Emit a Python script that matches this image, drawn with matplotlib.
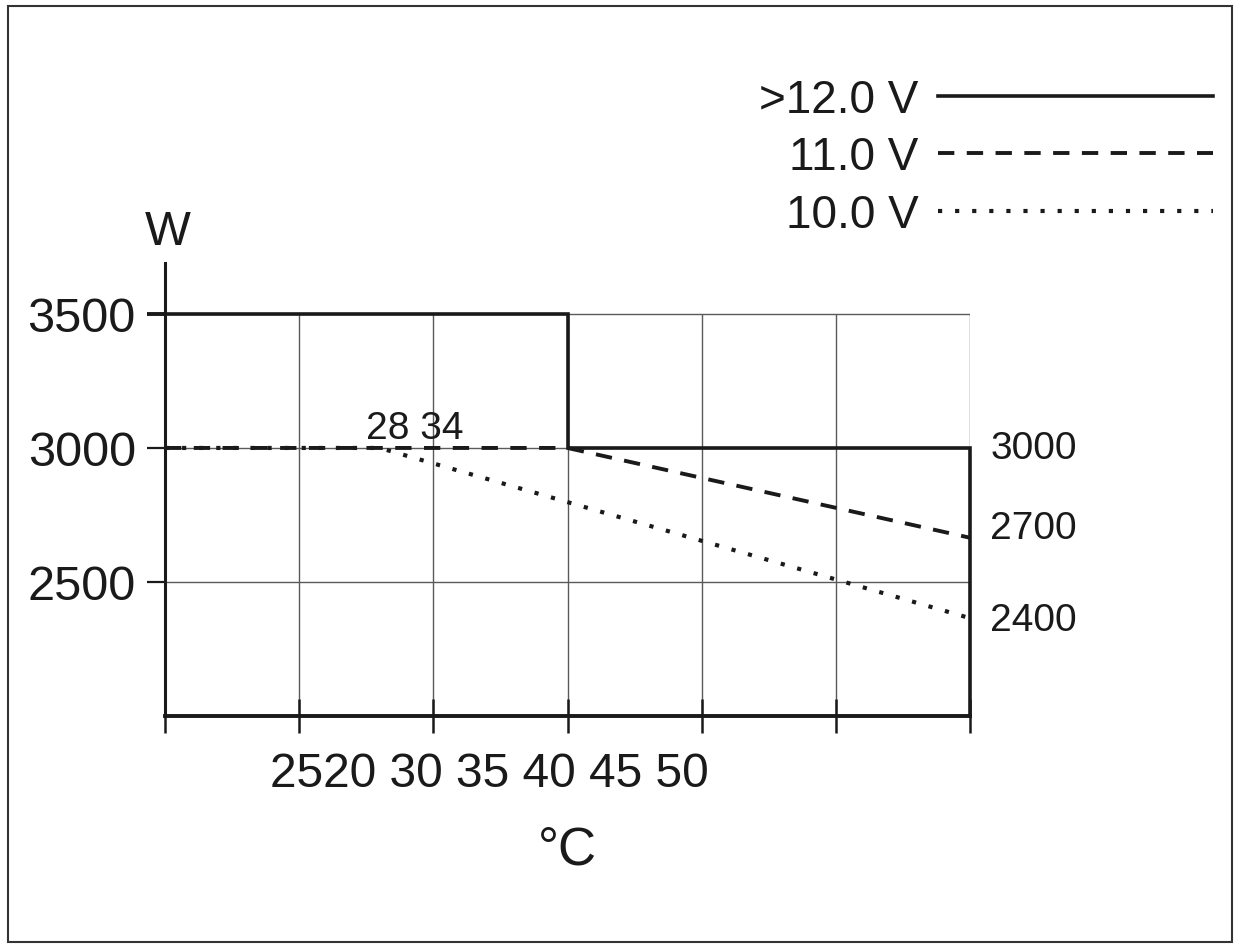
import matplotlib.pyplot as plt
from matplotlib.lines import Line2D
from matplotlib.patches import Rectangle

plt.rcParams['font.family'] = ['Liberation Sans', 'DejaVu Sans']

# power derating curves, temperature in degC vs power in W
temp_12v = [20, 35, 35, 50, 50]
watt_12v = [3500, 3500, 3000, 3000, 2000]
temp_11v = [20, 35, 50]
watt_11v = [3000, 3000, 2665]
temp_10v = [20, 28, 50]
watt_10v = [3000, 3000, 2365]

series_labels = [">12.0 V", "11.0 V", "10.0 V"]
y_ticks = [2500, 3000, 3500]
x_grid = [20, 25, 30, 35, 40, 45, 50]
x_label_text = "2520 30 35 40 45 50"
break_text = "28 34"
end_labels = ["3000", "2700", "2400"]
end_label_y = [3000, 2700, 2360]

W, H = 1234, 945
fig = plt.figure(figsize=(W / 100, H / 100), dpi=100)
ax = fig.add_axes([165 / W, (H - 717) / H, 805 / W, (717 - 264) / H])
ax.set_xlim(20, 50)
ax.set_ylim(2000, 3690)

ink = '#1a1a1a'
grid_c = '#5a5a5a'

dash_11 = (0, (4.2, 3.2))
dot_10 = (0, (1.0, 3.1))

# grid only inside 2000..3500
ax.vlines(x_grid[1:], 2000, 3500, color=grid_c, lw=1.0, zorder=1)
ax.hlines(y_ticks, 20, 50, color=grid_c, lw=1.0, zorder=1)

ax.plot(temp_12v, watt_12v, color=ink, lw=2.6, solid_joinstyle='miter',
        clip_on=False, zorder=4)
ax.plot(temp_11v, watt_11v, color=ink, lw=2.8, linestyle=dash_11,
        clip_on=False, zorder=3)
ax.plot(temp_10v, watt_10v, color=ink, lw=3.0, linestyle=dot_10,
        clip_on=False, zorder=3)

for s in ['top', 'right']:
    ax.spines[s].set_visible(False)
ax.spines['left'].set_linewidth(2.2)
ax.spines['left'].set_color(ink)
ax.spines['bottom'].set_linewidth(2.8)
ax.spines['bottom'].set_color(ink)

ax.set_yticks(y_ticks)
ax.set_yticklabels([str(v) for v in y_ticks])
ax.tick_params(axis='y', direction='out', length=13, width=1.6, color=ink,
               labelsize=35, pad=8, labelcolor=ink)
ax.set_xticks(x_grid)
ax.set_xticklabels([''] * len(x_grid))
ax.tick_params(axis='x', direction='inout', length=24, width=1.8, color=ink)
ax.yaxis.get_major_ticks()[2].tick1line.set_markeredgewidth(2.8)

# odd x labels drawn as in the original
ax.text(32.1, 1739, x_label_text, ha='center', va='baseline', fontsize=34.5, color=ink)
ax.text(35, 1448, "°C", ha='center', va='baseline', fontsize=38, color=ink)
ax.text(20.1, 3761, "W", ha='center', va='baseline', fontsize=35, color=ink)
ax.text(29.3, 3037, break_text, ha='center', va='baseline', fontsize=28, color=ink)
for lab, yv in zip(end_labels, end_label_y):
    ax.text(50.75, yv, lab, ha='left', va='center', fontsize=28, color=ink)
for t in ax.texts:
    t.set_clip_on(False)

handles = [Line2D([], [], color=ink, lw=2.6),
           Line2D([], [], color=ink, lw=2.8, linestyle=dash_11),
           Line2D([], [], color=ink, lw=3.0, linestyle=dot_10)]
fig.legend(handles, series_labels, markerfirst=False, frameon=False,
           loc='upper right', bbox_to_anchor=(1213 / W, (H - 79) / H),
           borderaxespad=0, borderpad=0, fontsize=33, handlelength=6.0,
           handletextpad=0.42, labelspacing=0.29, labelcolor=ink)

fig.patches.append(Rectangle((8 / W, 2 / H), 1224 / W, 936 / H,
                             transform=fig.transFigure, fill=False,
                             edgecolor='#333333', lw=1.5))

fig.savefig('out.png', dpi=100)
